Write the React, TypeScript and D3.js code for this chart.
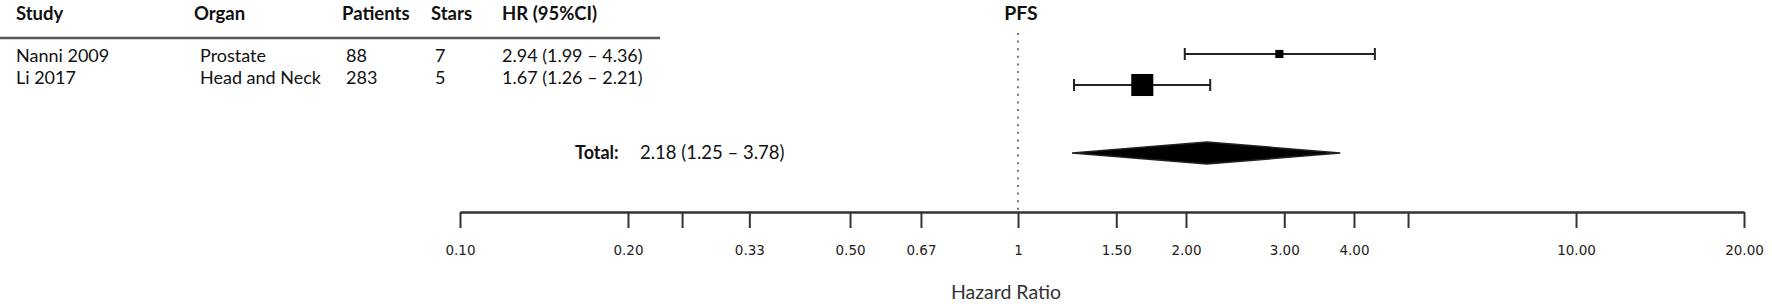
import * as d3 from 'd3';
import React, { Component } from 'react';

// table columns
const headers = ['Study', 'Organ', 'Patients', 'Stars', 'HR (95%CI)'];
const studies = ['Nanni 2009', 'Li 2017'];
const organs = ['Prostate', 'Head and Neck'];
const patients = [88, 283];
const stars = [7, 5];

// hazard ratios
const hr = [2.94, 1.67];
const ciLow = [1.99, 1.26];
const ciHigh = [4.36, 2.21];
const weights = [12, 88];

const totalHr = 2.18;
const totalLow = 1.25;
const totalHigh = 3.78;

const tickValues = [0.1, 0.2, 0.25, 0.33, 0.5, 0.67, 1, 1.5, 2, 3, 4, 5, 10, 20];
const tickLabels = ['0.10', '0.20', '', '0.33', '0.50', '0.67', '1', '1.50', '2.00', '3.00', '4.00', '', '10.00', '20.00'];

const TEXT_FONT = 'Lato, "Open Sans", sans-serif';
const TICK_FONT = '"DejaVu Sans", Verdana, sans-serif';

type Dimensions = {
    width: number;
    height: number;
    left: number;
    right: number;
    axisY: number;
    rowY: Array<number>;
    textY: Array<number>;
    totalY: number;
};

/**
 * Forest plot component.
 */
class ForestPlot extends Component<{}> {
    dimensions: Dimensions;
    node: SVGSVGElement | null = null;

    constructor(props: {}) {
        super(props);

        this.dimensions = { width: 1772,
            height: 304,
            left: 460,
            right: 1744,
            axisY: 212,
            rowY: [ 54, 85 ],
            textY: [ 62, 84 ],
            totalY: 153 };
    }

    componentDidMount() {
        this.drawChart();
    }

    componentDidUpdate() {
        d3.select(this.node).selectAll('*').remove();
        this.drawChart();
    }

    /**
     * Draws table and plot.
     */
    drawChart() {
        const dim = this.dimensions;
        const svg = d3.select(this.node);

        const x = d3.scaleLog()
            .domain([ 0.1, 20 ])
            .range([ dim.left, dim.right ]);
        const size = d3.scaleSqrt()
            .domain([ 0, 100 ])
            .range([ 0, 23.5 ]);

        const colX = [ 16, 194, 342, 431, 502 ];
        const dataX = [ 16, 200, 346, 435, 502 ];

        // header
        svg.append('g')
            .selectAll('text')
            .data(headers)
            .enter()
            .append('text')
            .attr('x', (_, i) => colX[i])
            .attr('y', 20)
            .style('font-family', TEXT_FONT)
            .style('font-weight', 'bold')
            .style('font-size', '18.5px')
            .attr('fill', '#111')
            .text(d => d);

        svg.append('line')
            .attr('x1', 0)
            .attr('x2', 660)
            .attr('y1', 38)
            .attr('y2', 38)
            .attr('stroke', '#555')
            .attr('stroke-width', 2.5);

        svg.append('text')
            .attr('x', x(1) + 3)
            .attr('y', 20)
            .attr('text-anchor', 'middle')
            .style('font-family', TEXT_FONT)
            .style('font-weight', 'bold')
            .style('font-size', '19.5px')
            .attr('fill', '#111')
            .text('PFS');

        // rows
        const rows = svg.append('g')
            .selectAll('g')
            .data(studies)
            .enter()
            .append('g')
            .attr('transform', (_, i) => `translate(0,${dim.textY[i]})`)
            .style('font-family', TEXT_FONT)
            .style('font-size', '18px')
            .attr('fill', '#111');

        const cells = (i: number) => [
            studies[i],
            organs[i],
            `${patients[i]}`,
            `${stars[i]}`,
            `${hr[i].toFixed(2)} (${ciLow[i].toFixed(2)} – ${ciHigh[i].toFixed(2)})`
        ];

        rows.each(function(_, i) {
            d3.select(this)
                .selectAll('text')
                .data(cells(i))
                .enter()
                .append('text')
                .attr('x', (_d, j) => dataX[j])
                .text(d => d);
        });

        // total label
        svg.append('text')
            .attr('x', 575)
            .attr('y', dim.totalY + 6)
            .style('font-family', TEXT_FONT)
            .style('font-weight', 'bold')
            .style('font-size', '18px')
            .attr('fill', '#111')
            .text('Total:');
        svg.append('text')
            .attr('x', 640)
            .attr('y', dim.totalY + 6)
            .style('font-family', TEXT_FONT)
            .style('font-size', '18.5px')
            .attr('fill', '#111')
            .text(`${totalHr.toFixed(2)} (${totalLow.toFixed(2)} – ${totalHigh.toFixed(2)})`);

        // reference line
        svg.append('line')
            .attr('x1', x(1))
            .attr('x2', x(1))
            .attr('y1', 33)
            .attr('y2', dim.axisY)
            .attr('stroke', '#777')
            .attr('stroke-width', 2)
            .attr('stroke-dasharray', '2,5.6');

        // confidence intervals
        const ci = svg.append('g')
            .selectAll('g')
            .data(hr)
            .enter()
            .append('g')
            .attr('stroke', '#222')
            .attr('stroke-width', 2);

        ci.append('line')
            .attr('x1', (_, i) => x(ciLow[i]))
            .attr('x2', (_, i) => x(ciHigh[i]))
            .attr('y1', (_, i) => dim.rowY[i])
            .attr('y2', (_, i) => dim.rowY[i]);
        ci.append('line')
            .attr('x1', (_, i) => x(ciLow[i]))
            .attr('x2', (_, i) => x(ciLow[i]))
            .attr('y1', (_, i) => dim.rowY[i] - 6)
            .attr('y2', (_, i) => dim.rowY[i] + 6);
        ci.append('line')
            .attr('x1', (_, i) => x(ciHigh[i]))
            .attr('x2', (_, i) => x(ciHigh[i]))
            .attr('y1', (_, i) => dim.rowY[i] - 6)
            .attr('y2', (_, i) => dim.rowY[i] + 6);
        ci.append('rect')
            .attr('x', (d, i) => x(d) - size(weights[i]) / 2)
            .attr('y', (_, i) => dim.rowY[i] - size(weights[i]) / 2)
            .attr('width', (_, i) => size(weights[i]))
            .attr('height', (_, i) => size(weights[i]))
            .attr('fill', '#000')
            .attr('stroke', 'none');

        // pooled diamond
        const half = 11;
        svg.append('polygon')
            .attr('points', [
                [ x(totalLow), dim.totalY ],
                [ x(totalHr), dim.totalY - half ],
                [ x(totalHigh), dim.totalY ],
                [ x(totalHr), dim.totalY + half ]
            ].map(p => p.join(',')).join(' '))
            .attr('fill', '#000')
            .attr('stroke', '#222')
            .attr('stroke-width', 1.5);

        // axis
        const xAxis = d3.axisBottom(x)
            .tickValues(tickValues)
            .tickFormat((_, i) => tickLabels[i])
            .tickSize(16)
            .tickSizeOuter(0)
            .tickPadding(17);

        const axis = svg.append('g')
            .attr('transform', `translate(0,${dim.axisY})`)
            .call(xAxis);

        axis.select('.domain')
            .attr('stroke', '#333')
            .attr('stroke-width', 2.5);
        axis.selectAll('.tick line')
            .attr('stroke', '#333')
            .attr('stroke-width', 2);
        axis.selectAll('.tick text')
            .style('font-family', TICK_FONT)
            .style('font-size', '13.5px')
            .attr('fill', '#222');

        svg.append('text')
            .attr('x', x(1) - 12)
            .attr('y', 299)
            .attr('text-anchor', 'middle')
            .style('font-family', TEXT_FONT)
            .style('font-size', '19.5px')
            .attr('fill', '#333')
            .text('Hazard Ratio');
    }

    render() {
        const dim = this.dimensions;

        return (
            <>
                <style>{'body { margin: 0; }'}</style>
                <svg
                    ref={n => { this.node = n; }}
                    width={dim.width}
                    height={dim.height}
                    style={{ display: 'block', background: '#fff' }} />
            </>
        );
    }
}

export default function App() {
    return <ForestPlot />;
}
